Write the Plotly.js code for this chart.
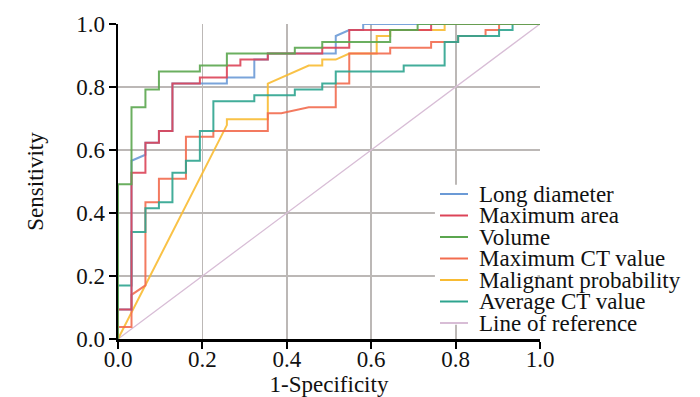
<!DOCTYPE html>
<html>
<head>
<meta charset="utf-8">
<script src="https://cdn.plot.ly/plotly-3.0.1.min.js"></script>
<style>html,body{margin:0;padding:0;background:#fff;}#chart{width:700px;height:397px;}</style>
</head>
<body>
<div id="chart"></div>
<script>
// ---- data ----
const seriesNames = ["Long diameter", "Maximum area", "Volume", "Maximum CT value", "Malignant probability", "Average CT value", "Line of reference"];
const seriesColors = ["#6b9ad6", "#dc4458", "#5ba64f", "#f26c4f", "#f8bb33", "#2ea48f", "#d8bdd6"];

const longDiameterX = [0, 0, 0.032, 0.032, 0.065, 0.065, 0.097, 0.097, 0.129, 0.129, 0.258, 0.258, 0.323, 0.323, 0.355, 0.355, 0.516, 0.516, 0.548, 0.581, 0.581, 1];
const longDiameterY = [0, 0.094, 0.094, 0.566, 0.585, 0.623, 0.623, 0.66, 0.66, 0.811, 0.811, 0.83, 0.83, 0.887, 0.887, 0.906, 0.906, 0.962, 0.981, 0.981, 1, 1];

const maxAreaX = [0, 0, 0.032, 0.032, 0.065, 0.065, 0.097, 0.097, 0.129, 0.129, 0.194, 0.194, 0.258, 0.258, 0.290, 0.290, 0.355, 0.355, 0.484, 0.484, 0.548, 0.548, 0.742, 0.742, 1];
const maxAreaY = [0, 0.094, 0.094, 0.528, 0.528, 0.623, 0.623, 0.66, 0.66, 0.811, 0.811, 0.83, 0.83, 0.868, 0.868, 0.887, 0.887, 0.906, 0.906, 0.925, 0.925, 0.981, 0.981, 1, 1];

const volumeX = [0, 0, 0.032, 0.032, 0.065, 0.065, 0.097, 0.097, 0.194, 0.194, 0.258, 0.258, 0.419, 0.419, 0.484, 0.484, 0.645, 0.645, 0.710, 0.710, 1];
const volumeY = [0, 0.491, 0.491, 0.736, 0.736, 0.792, 0.792, 0.849, 0.849, 0.868, 0.868, 0.906, 0.906, 0.925, 0.925, 0.943, 0.943, 0.981, 0.981, 1, 1];

const maxCTX = [0, 0, 0.032, 0.032, 0.065, 0.065, 0.097, 0.097, 0.161, 0.161, 0.226, 0.226, 0.355, 0.355, 0.387, 0.452, 0.516, 0.516, 0.548, 0.548, 0.645, 0.645, 0.742, 0.742, 0.806, 0.806, 0.871, 0.871, 0.903, 0.903, 1];
const maxCTY = [0, 0.038, 0.038, 0.14, 0.17, 0.434, 0.434, 0.509, 0.509, 0.642, 0.642, 0.66, 0.66, 0.717, 0.717, 0.736, 0.736, 0.811, 0.811, 0.906, 0.906, 0.925, 0.925, 0.943, 0.943, 0.962, 0.962, 0.981, 0.981, 1, 1];

const malignantX = [0, 0.258, 0.258, 0.355, 0.355, 0.452, 0.484, 0.484, 0.516, 0.548, 0.613, 0.613, 0.645, 0.645, 0.774, 0.774, 1];
const malignantY = [0, 0.679, 0.698, 0.698, 0.811, 0.868, 0.868, 0.887, 0.887, 0.906, 0.906, 0.962, 0.962, 0.981, 0.981, 1, 1];

const avgCTX = [0, 0, 0.032, 0.032, 0.065, 0.065, 0.097, 0.097, 0.129, 0.129, 0.161, 0.161, 0.194, 0.194, 0.226, 0.226, 0.323, 0.323, 0.419, 0.419, 0.484, 0.484, 0.516, 0.516, 0.677, 0.677, 0.774, 0.774, 0.806, 0.806, 0.903, 0.903, 0.935, 0.935, 1];
const avgCTY = [0, 0.17, 0.17, 0.34, 0.34, 0.415, 0.415, 0.434, 0.434, 0.528, 0.528, 0.566, 0.566, 0.66, 0.66, 0.755, 0.755, 0.774, 0.774, 0.792, 0.792, 0.811, 0.811, 0.849, 0.849, 0.868, 0.868, 0.943, 0.943, 0.962, 0.962, 0.981, 0.981, 1, 1];

const referenceX = [0, 1];
const referenceY = [0, 1];

const xTickVals = [0, 0.2, 0.4, 0.6, 0.8, 1.0];
const xTickText = ["0.0", "0.2", "0.4", "0.6", "0.8", "1.0"];
const yTickVals = [0, 0.2, 0.4, 0.6, 0.8, 1.0];
const yTickText = ["0.0", "0.2", "0.4", "0.6", "0.8", "1.0"];

// ---- build ----
const xs = [longDiameterX, maxAreaX, volumeX, maxCTX, malignantX, avgCTX, referenceX];
const ys = [longDiameterY, maxAreaY, volumeY, maxCTY, malignantY, avgCTY, referenceY];
const drawOrder = [6, 4, 3, 5, 0, 1, 2];

const FONT = "'Liberation Serif', 'Times New Roman', serif";
const traces = drawOrder.map(i => ({
  type: "scatter", mode: "lines", name: seriesNames[i],
  x: xs[i], y: ys[i],
  line: {color: seriesColors[i], width: i === 6 ? 1.3 : 2},
  opacity: i === 6 ? 1 : 0.9,
  showlegend: false, hoverinfo: "skip"
}));

// manual legend (tight rows like the reference)
const L = 118, T = 24, PW = 422, PH = 315;
const legendRowY0 = 194, legendRowStep = 21.5;
const shapes = [{
  type: "rect", xref: "x", yref: "y", layer: "between",
  x0: 0.751, x1: 0.994, y0: 0.045, y1: 0.49,
  fillcolor: "#ffffff", line: {width: 0}
}];
const annotations = [];
seriesNames.forEach((nm, i) => {
  const py = legendRowY0 + i * legendRowStep;
  const yp = (T + PH - py) / PH;
  shapes.push({
    type: "line", xref: "paper", yref: "paper", layer: "above",
    x0: (440 - L) / PW, x1: (468 - L) / PW, y0: yp, y1: yp,
    line: {color: seriesColors[i], width: 2}
  });
  annotations.push({
    xref: "paper", yref: "paper", x: (477 - L) / PW, y: yp,
    xanchor: "left", yanchor: "middle", showarrow: false,
    text: nm, font: {family: FONT, size: 23, color: "#111"}
  });
});

const axisCommon = {
  range: [0, 1], showline: true, linecolor: "#000", linewidth: 2.5,
  ticks: "outside", ticklen: 7, tickwidth: 2, tickcolor: "#000",
  showgrid: true, gridcolor: "#bcb8b6", gridwidth: 1.8, zeroline: false,
  tickfont: {family: FONT, size: 23, color: "#111"}, automargin: false, fixedrange: true
};

const layout = {
  width: 700, height: 397,
  margin: {l: L, r: 700 - L - PW, t: T, b: 397 - T - PH},
  paper_bgcolor: "#fff", plot_bgcolor: "#fff",
  xaxis: Object.assign({}, axisCommon, {
    tickmode: "array", tickvals: xTickVals, ticktext: xTickText,
    ticklabelstandoff: -9,
    title: {text: "1-Specificity", font: {family: FONT, size: 23, color: "#111"}, standoff: 0}
  }),
  yaxis: Object.assign({}, axisCommon, {
    tickmode: "array", tickvals: yTickVals, ticktext: yTickText,
    ticklabelstandoff: -1,
    title: {text: "Sensitivity", font: {family: FONT, size: 23, color: "#111"}, standoff: 26}
  }),
  shapes: shapes, annotations: annotations, showlegend: false
};

Plotly.newPlot("chart", traces, layout, {staticPlot: true, displayModeBar: false});
</script>
</body>
</html>
